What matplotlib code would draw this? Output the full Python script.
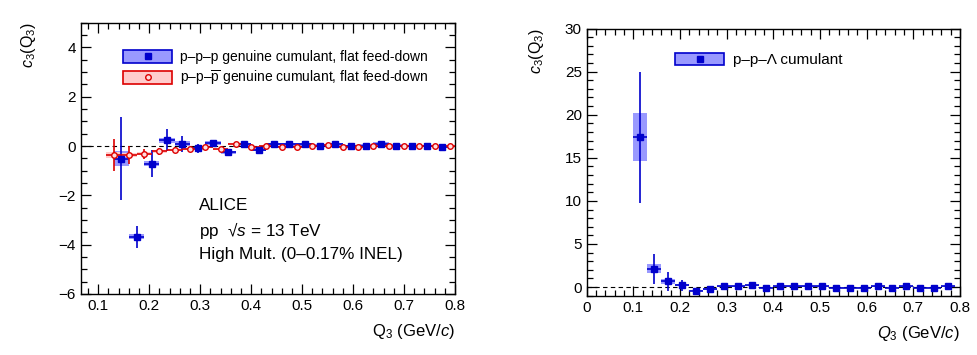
import matplotlib.pyplot as plt
import matplotlib.patches as mpatches
from matplotlib.lines import Line2D
from matplotlib.ticker import MultipleLocator
import numpy as np

plt.rcParams['font.family'] = ['Liberation Sans', 'DejaVu Sans']
plt.rcParams['mathtext.fontset'] = 'custom'
plt.rcParams['mathtext.rm'] = 'Liberation Sans'
plt.rcParams['mathtext.it'] = 'Liberation Sans:italic'

# left panel: p-p-p
ppp_q = [0.145, 0.175, 0.205, 0.235, 0.265, 0.295, 0.325, 0.355, 0.385, 0.415, 0.445,
         0.475, 0.505, 0.535, 0.565, 0.595, 0.625, 0.655, 0.685, 0.715, 0.745, 0.775]
ppp_c3 = [-0.51, -3.68, -0.71, 0.24, 0.09, -0.10, 0.13, -0.26, 0.07, -0.16, 0.09,
          0.07, 0.07, 0.02, 0.07, -0.01, 0.02, 0.10, 0.02, -0.01, -0.01, -0.05]
ppp_stat = [1.70, 0.45, 0.54, 0.44, 0.33, 0.20, 0.13, 0.10, 0.08, 0.07, 0.06,
            0.05, 0.05, 0.05, 0.04, 0.04, 0.04, 0.04, 0.04, 0.04, 0.04, 0.04]
ppp_sys = [0.30, 0.10, 0.12, 0.10, 0.10, 0.08, 0.08, 0.06, 0.06, 0.06, 0.05,
           0.05, 0.05, 0.05, 0.05, 0.05, 0.05, 0.05, 0.05, 0.05, 0.05, 0.05]

# left panel: p-p-pbar
pppbar_q = [0.13, 0.16, 0.19, 0.22, 0.25, 0.28, 0.31, 0.34, 0.37, 0.40, 0.43, 0.46,
            0.49, 0.52, 0.55, 0.58, 0.61, 0.64, 0.67, 0.70, 0.73, 0.76, 0.79]
pppbar_c3 = [-0.35, -0.37, -0.32, -0.22, -0.16, -0.13, -0.05, -0.14, 0.10, -0.04, 0.00, -0.06,
             -0.06, -0.01, 0.03, -0.03, -0.03, -0.02, 0.00, 0.00, 0.00, -0.02, 0.02]
pppbar_stat = [0.65, 0.35, 0.20, 0.15, 0.10, 0.08, 0.06, 0.05, 0.05, 0.04, 0.04, 0.04,
               0.03, 0.03, 0.03, 0.03, 0.03, 0.03, 0.03, 0.03, 0.03, 0.03, 0.03]
pppbar_sys = [0.12, 0.08, 0.06, 0.05, 0.04, 0.04, 0.03, 0.03, 0.03, 0.03, 0.03, 0.03,
              0.03, 0.03, 0.03, 0.03, 0.03, 0.03, 0.03, 0.03, 0.03, 0.03, 0.03]

# right panel: p-p-Lambda
ppl_q = [0.115, 0.145, 0.175, 0.205, 0.235, 0.265, 0.295, 0.325, 0.355, 0.385, 0.415, 0.445,
         0.475, 0.505, 0.535, 0.565, 0.595, 0.625, 0.655, 0.685, 0.715, 0.745, 0.775]
ppl_c3 = [17.4, 2.13, 0.65, 0.19, -0.40, -0.20, 0.07, 0.10, 0.20, -0.05, 0.07, 0.07,
          0.07, 0.07, -0.05, -0.05, -0.05, 0.07, -0.05, 0.07, -0.05, -0.05, 0.07]
ppl_stat = [7.6, 1.75, 1.05, 0.67, 0.30, 0.20, 0.15, 0.12, 0.12, 0.10, 0.10, 0.10,
            0.10, 0.10, 0.10, 0.10, 0.10, 0.10, 0.10, 0.10, 0.10, 0.10, 0.10]
ppl_sys = [2.8, 0.50, 0.25, 0.12, 0.10, 0.08, 0.08, 0.08, 0.08, 0.08, 0.08, 0.08,
           0.08, 0.08, 0.08, 0.08, 0.08, 0.08, 0.08, 0.08, 0.08, 0.08, 0.08]

bin_w = 0.03
blue = '#0000cc'
blue_box = '#9999ff'
red = '#dd0000'
red_box = '#ffcccc'


def draw_series(ax, q, c3, stat, sys, color, box_color, marker, mfc, ms):
    q = np.array(q)
    c3 = np.array(c3)
    sys = np.array(sys)
    ax.bar(q, 2 * sys, bottom=c3 - sys, width=bin_w, color=box_color, linewidth=0, zorder=2)
    ax.errorbar(q, c3, yerr=stat, xerr=bin_w / 2, fmt=marker, color=color, mfc=mfc,
                mec=color, ms=ms, mew=1.0, elinewidth=1.2, capsize=0, zorder=4)


def style_axes(ax, qlabel):
    ax.tick_params(which='both', direction='in', top=True, right=True, labelsize=11)
    ax.tick_params(which='major', length=7, width=0.9)
    ax.tick_params(which='minor', length=4, width=0.9)
    for s in ax.spines.values():
        s.set_linewidth(1.0)
    ax.xaxis.set_major_locator(MultipleLocator(0.1))
    ax.xaxis.set_minor_locator(MultipleLocator(0.02))
    ax.set_xlabel(qlabel + ' (GeV/$c$)', loc='right', fontsize=12)
    ax.set_ylabel(r'$c_3(\mathrm{Q}_3)$', loc='top', fontsize=11.5)


fig = plt.figure(figsize=(9.78, 3.55), dpi=100)

# left
ax1 = fig.add_axes([0.0828, 0.172, 0.3824, 0.764])
ax1.set_xlim(0.066, 0.8)
ax1.set_ylim(-6, 5)
ax1.axhline(0, color='black', ls=(0, (4, 3)), lw=0.8, zorder=3)
draw_series(ax1, ppp_q, ppp_c3, ppp_stat, ppp_sys, blue, blue_box, 's', blue, 4.3)
draw_series(ax1, pppbar_q, pppbar_c3, pppbar_stat, pppbar_sys, red, red_box, 'o', '#ffdddd', 4.0)
style_axes(ax1, r'$\mathrm{Q}_3$')
ax1.yaxis.set_major_locator(MultipleLocator(2))
ax1.yaxis.set_minor_locator(MultipleLocator(0.5))
ax1.set_xticks([0.1, 0.2, 0.3, 0.4, 0.5, 0.6, 0.7, 0.8])
ax1.set_xticklabels(['0.1', '0.2', '0.3', '0.4', '0.5', '0.6', '0.7', '0.8'])
ax1.yaxis.set_label_coords(-0.115, 1.0)
ax1.xaxis.set_label_coords(1.0, -0.105)

h1 = (mpatches.Patch(facecolor=blue_box, edgecolor=blue, lw=1.2),
      Line2D([], [], marker='s', color=blue, ls='none', ms=4))
h2 = (mpatches.Patch(facecolor=red_box, edgecolor=red, lw=1.2),
      Line2D([], [], marker='o', color=red, mfc='#ffdddd', ls='none', ms=4))
ax1.legend([h1, h2],
           ['p\u2013p\u2013p genuine cumulant, flat feed-down',
            'p\u2013p\u2013$\\overline{\\mathrm{p}}$ genuine cumulant, flat feed-down'],
           loc='upper left', bbox_to_anchor=(0.08, 0.945), frameon=False, fontsize=10,
           handlelength=3.5, handleheight=1.0, handletextpad=0.6, labelspacing=0.3)

ax1.text(0.315, 0.325, 'ALICE', transform=ax1.transAxes, fontsize=12.3, va='center')
ax1.text(0.315, 0.235, 'pp  \u221a$s$ = 13 TeV', transform=ax1.transAxes, fontsize=12.3,
         va='center')
ax1.text(0.315, 0.145, 'High Mult. (0\u20130.17% INEL)', transform=ax1.transAxes,
         fontsize=12.3, va='center')

# right
ax2 = fig.add_axes([0.5999, 0.167, 0.3817, 0.7527])
ax2.set_xlim(0, 0.8)
ax2.set_ylim(-1, 30)
ax2.axhline(0, color='black', ls=(0, (4, 3)), lw=0.8, zorder=3)
draw_series(ax2, ppl_q, ppl_c3, ppl_stat, ppl_sys, blue, blue_box, 's', blue, 4.3)
style_axes(ax2, r'$Q_3$')
ax2.yaxis.set_major_locator(MultipleLocator(5))
ax2.yaxis.set_minor_locator(MultipleLocator(1))
ax2.set_xticks([0, 0.1, 0.2, 0.3, 0.4, 0.5, 0.6, 0.7, 0.8])
ax2.set_xticklabels(['0', '0.1', '0.2', '0.3', '0.4', '0.5', '0.6', '0.7', '0.8'])
ax2.yaxis.set_label_coords(-0.11, 1.0)
ax2.xaxis.set_label_coords(1.0, -0.105)

h3 = (mpatches.Patch(facecolor=blue_box, edgecolor=blue, lw=1.2),
      Line2D([], [], marker='s', color=blue, ls='none', ms=5))
ax2.legend([h3], ['p\u2013p\u2013\u039b cumulant'], loc='upper left',
           bbox_to_anchor=(0.2, 0.96), frameon=False, fontsize=11,
           handlelength=3.2, handleheight=0.8, handletextpad=0.6)

fig.savefig('out.png', dpi=100)
